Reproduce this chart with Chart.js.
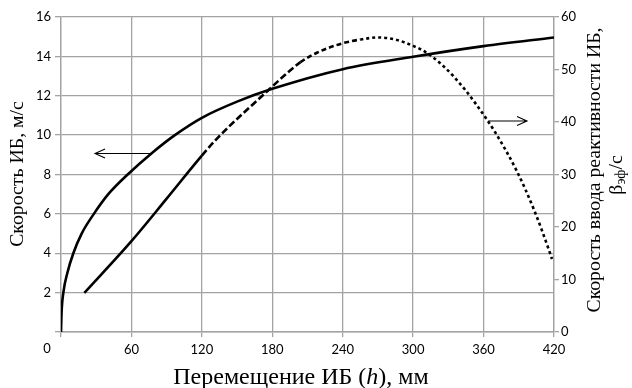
<!DOCTYPE html>
<html>
<head>
<meta charset="utf-8">
<script src="https://cdn.jsdelivr.net/npm/chart.js@4"></script>
<style>
  html, body { margin: 0; padding: 0; background: #fff; }
  #wrap { width: 632px; height: 388px; }
</style>
</head>
<body>
<div id="wrap"><canvas id="c"></canvas></div>
<script>
// X axis: displacement of IB (mm)
const xTicks = [0, 60, 120, 180, 240, 300, 360, 420];
const speedTicks = [0, 2, 4, 6, 8, 10, 12, 14, 16];
const reactTicks = [0, 10, 20, 30, 40, 50, 60];

// speed of IB, m/s (left axis)
const speedH = [0, 0.5, 2, 5.4, 10.5, 17.6, 28, 40.3, 56.8, 77, 97, 120, 150, 180, 240, 300, 360, 420];
const speedV = [0, 1, 2, 3, 4, 5, 6, 7, 8, 9.07, 10, 10.88, 11.7, 12.35, 13.35, 13.98, 14.52, 14.96];

// reactivity insertion rate, beta_eff/s (right axis)
const reactH = [19.9, 60, 90, 120, 132.7, 176.8, 190, 204, 218, 240, 255, 270, 285, 300, 310, 326, 344.4, 363, 370, 388, 403.5, 415.4, 418.3];
const reactR = [7.45, 17.3, 25.4, 33.6, 36.8, 46.1, 48.8, 51.4, 53.2, 55.0, 55.7, 56.1, 55.7, 54.5, 53.4, 50.6, 46.1, 40.4, 38.0, 30.8, 23.0, 15.8, 13.9];

// arrows pointing to the axis each curve belongs to
const leftArrow = { x1: 77, x2: 29, y: 9.07 };    // left axis units
const rightArrow = { x1: 364, x2: 397, y: 40.2 }; // right axis units

const gridColor = '#a3a3a3';
const tickFont = { family: 'Lato', size: 13 };

function zip(xs, ys) {
    return xs.map((x, i) => ({ x: x, y: ys[i] }));
}

const annotations = {
    id: 'annotations',
    afterDraw(chart) {
        const ctx = chart.ctx;
        const x = chart.scales.x;
        const yl = chart.scales.y;
        const yr = chart.scales.y2;

        // arrows
        const arrow = (a, ys) => {
            const px1 = x.getPixelForValue(a.x1);
            const px2 = x.getPixelForValue(a.x2);
            const py = ys.getPixelForValue(a.y);
            const dir = Math.sign(px2 - px1);
            ctx.save();
            ctx.strokeStyle = '#000';
            ctx.lineWidth = 1.1;
            ctx.beginPath();
            ctx.moveTo(px1, py);
            ctx.lineTo(px2, py);
            ctx.moveTo(px2 - dir * 10, py - 4.5);
            ctx.lineTo(px2, py);
            ctx.lineTo(px2 - dir * 10, py + 4.5);
            ctx.stroke();
            ctx.restore();
        };
        arrow(leftArrow, yl);
        arrow(rightArrow, yr);

        ctx.save();
        ctx.fillStyle = '#000';

        // x tick "0" sits left of the axis in the original
        ctx.font = '13px Lato';
        ctx.textAlign = 'center';
        ctx.textBaseline = 'middle';
        ctx.fillText('0', x.getPixelForValue(0) - 14, 349);

        // bottom title with italic h
        const parts = [
            ['Перемещение ИБ (', '24px "Liberation Serif"'],
            ['h', 'italic 24px "Liberation Serif"'],
            ['), мм', '24px "Liberation Serif"']
        ];
        let total = 0;
        parts.forEach(p => { ctx.font = p[1]; total += ctx.measureText(p[0]).width; });
        let cx = 301 - total / 2;
        ctx.textAlign = 'left';
        ctx.textBaseline = 'alphabetic';
        parts.forEach(p => {
            ctx.font = p[1];
            ctx.fillText(p[0], cx, 384);
            cx += ctx.measureText(p[0]).width;
        });

        // left title
        ctx.save();
        ctx.translate(18, 174);
        ctx.rotate(-Math.PI / 2);
        ctx.font = '19.8px "Liberation Serif"';
        ctx.textAlign = 'center';
        ctx.textBaseline = 'middle';
        ctx.fillText('Скорость ИБ, м/с', 0, 0);
        ctx.restore();

        // right title, two lines
        ctx.save();
        ctx.translate(595, 170);
        ctx.rotate(-Math.PI / 2);
        ctx.font = '19.8px "Liberation Serif"';
        ctx.textAlign = 'center';
        ctx.textBaseline = 'middle';
        ctx.fillText('Скорость ввода реактивности ИБ,', 0, 0);
        ctx.restore();

        ctx.save();
        ctx.translate(617, 175);
        ctx.rotate(-Math.PI / 2);
        const seg = [
            ['β', '19.8px "Liberation Serif"', 0],
            ['эф', '14px "Liberation Serif"', 4],
            ['/с', '19.8px "Liberation Serif"', 0]
        ];
        let w = 0;
        seg.forEach(s => { ctx.font = s[1]; w += ctx.measureText(s[0]).width; });
        let sx = -w / 2;
        ctx.textAlign = 'left';
        ctx.textBaseline = 'middle';
        seg.forEach(s => {
            ctx.font = s[1];
            ctx.fillText(s[0], sx, s[2]);
            sx += ctx.measureText(s[0]).width;
        });
        ctx.restore();

        ctx.restore();
    }
};

function dashFor(ctx) {
    const h = ctx.p0.parsed.x;
    if (h < 110) return [];
    if (h < 200) return [7, 3];
    if (h < 245) return [5, 3];
    return [3, 3];
}

new Chart(document.getElementById('c'), {
    type: 'line',
    data: {
        datasets: [
            {
                label: 'Скорость ИБ',
                data: zip(speedH, speedV),
                yAxisID: 'y',
                borderColor: '#000',
                borderWidth: 2.6,
                pointRadius: 0,
                fill: false,
                cubicInterpolationMode: 'monotone'
            },
            {
                label: 'Скорость ввода реактивности',
                data: zip(reactH, reactR),
                yAxisID: 'y2',
                borderColor: '#000',
                borderWidth: 2.6,
                pointRadius: 0,
                fill: false,
                cubicInterpolationMode: 'monotone',
                segment: { borderDash: dashFor }
            }
        ]
    },
    options: {
        responsive: true,
        maintainAspectRatio: false,
        animation: false,
        layout: { padding: { top: 17, left: 0, right: 0, bottom: 0 } },
        plugins: {
            legend: { display: false },
            tooltip: { enabled: false }
        },
        scales: {
            x: {
                type: 'linear',
                min: 0,
                max: 420,
                afterBuildTicks: s => { s.ticks = xTicks.map(v => ({ value: v })); },
                afterFit: s => { s.height = 56; },
                grid: { color: gridColor, lineWidth: 1.3, tickLength: 5 },
                border: { color: gridColor, width: 1.6 },
                ticks: {
                    font: tickFont,
                    color: '#000',
                    padding: 5,
                    maxRotation: 0,
                    callback: v => (v === 0 ? '' : v)
                }
            },
            y: {
                position: 'left',
                min: 0,
                max: 16,
                afterBuildTicks: s => { s.ticks = speedTicks.map(v => ({ value: v })); },
                afterFit: s => { s.width = 61; },
                grid: { color: gridColor, lineWidth: 1.3, tickLength: 6 },
                border: { color: gridColor, width: 1.3 },
                ticks: {
                    font: tickFont,
                    color: '#000',
                    padding: 4,
                    callback: v => (v === 0 ? '' : v)
                }
            },
            y2: {
                position: 'right',
                min: 0,
                max: 60,
                afterBuildTicks: s => { s.ticks = reactTicks.map(v => ({ value: v })); },
                afterFit: s => { s.width = 78; },
                grid: { drawOnChartArea: false, color: gridColor, lineWidth: 1.3, tickLength: 5 },
                border: { color: gridColor, width: 1.3 },
                ticks: {
                    font: tickFont,
                    color: '#000',
                    padding: 2
                }
            }
        }
    },
    plugins: [annotations]
});
</script>
</body>
</html>
